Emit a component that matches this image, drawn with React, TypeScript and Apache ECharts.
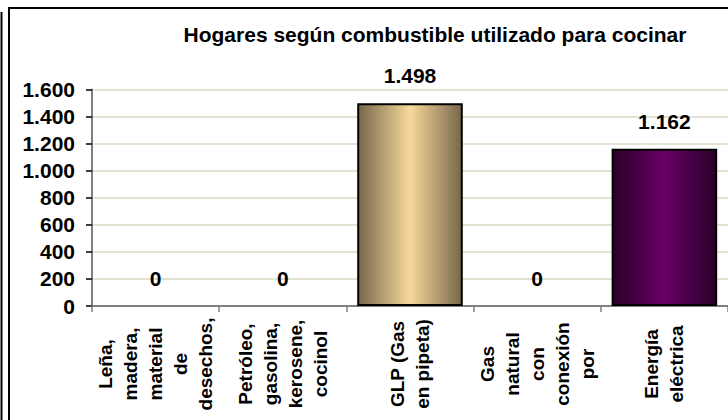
import React, { useEffect, useRef } from "react";
import * as echarts from "echarts";

const titleText = "Hogares según combustible utilizado para cocinar";
const categories = [
  "Leña,\nmadera,\nmaterial\nde\ndesechos,",
  "Petróleo,\ngasolina,\nkerosene,\ncocinol",
  "GLP (Gas\nen pipeta)",
  "Gas\nnatural\ncon\nconexión\npor",
  "Energía\neléctrica",
];
const values = [0, 0, 1498, 0, 1162];
const yTicks = [0, 200, 400, 600, 800, 1000, 1200, 1400, 1600];

const FONT = '"Liberation Sans", Arial, Helvetica, sans-serif';

const fmt = (v: number) =>
  String(Math.round(v)).replace(/\B(?=(\d{3})+(?!\d))/g, ".");

const grad = (edge: string, mid: string) =>
  new echarts.graphic.LinearGradient(0, 0, 1, 0, [
    { offset: 0, color: edge },
    { offset: 0.5, color: mid },
    { offset: 1, color: edge },
  ]);

const barStyles: Record<number, any> = {
  2: { color: grad("#77674a", "#f8d99c"), borderColor: "#000", borderWidth: 2 },
  4: { color: grad("#2a0029", "#680066"), borderColor: "#000", borderWidth: 2 },
};

export default function App() {
  const ref = useRef<HTMLDivElement>(null);
  useEffect(() => {
    if (!ref.current) return;
    const chart = echarts.init(ref.current, undefined, { renderer: "svg" });
    chart.setOption({
      animation: false,
      backgroundColor: "#ffffff",
      graphic: [
        {
          type: "rect",
          shape: { x: 9, y: 8, width: 900, height: 600 },
          style: { fill: "none", stroke: "#000", lineWidth: 2 },
          z: 100,
        },
        {
          type: "line",
          shape: { x1: 1.5, y1: 12, x2: 1.5, y2: 430 },
          style: { stroke: "#000", lineWidth: 2 },
          z: 100,
        },
        {
          type: "text",
          x: 435,
          y: 34,
          style: {
            text: titleText,
            fontFamily: FONT,
            fontWeight: "bold",
            fontSize: 21,
            fill: "#000",
            align: "center",
            verticalAlign: "middle",
          },
          z: 100,
        },
      ],
      grid: { left: 92, top: 89.5, width: 638, height: 216.5 },
      xAxis: {
        type: "category",
        data: categories,
        boundaryGap: true,
        axisLine: { lineStyle: { color: "#7f7f7f", width: 2 } },
        axisTick: { show: true, interval: 0, length: 6, lineStyle: { color: "#7f7f7f", width: 1.5 } },
        axisLabel: {
          interval: 0,
          rotate: 90,
          align: "center",
          verticalAlign: "middle",
          margin: 58,
          lineHeight: 25,
          fontFamily: FONT,
          fontWeight: "bold",
          fontSize: 19,
          color: "#000",
        },
      },
      yAxis: {
        type: "value",
        min: yTicks[0],
        max: yTicks[yTicks.length - 1],
        interval: 200,
        axisLine: { show: true, lineStyle: { color: "#7f7f7f", width: 2 } },
        axisTick: { show: true, length: 6, lineStyle: { color: "#000", width: 1.5 } },
        splitLine: { show: true, lineStyle: { color: "#d9d9c4", width: 1.5 } },
        axisLabel: {
          margin: 17,
          fontFamily: FONT,
          fontWeight: "bold",
          fontSize: 21,
          color: "#000",
          formatter: (v: number) => fmt(v),
        },
      },
      series: [
        {
          type: "bar",
          barWidth: "83%",
          data: values.map((v, i) => ({
            value: v,
            itemStyle: barStyles[i] || { color: "transparent", borderWidth: 0 },
          })),
          label: {
            show: true,
            position: "top",
            distance: 17,
            fontFamily: FONT,
            fontWeight: "bold",
            fontSize: 21,
            color: "#000",
            formatter: (p: any) => fmt(p.value),
          },
        },
      ],
    });
    return () => chart.dispose();
  }, []);
  return (
    <div
      ref={ref}
      style={{ position: "fixed", left: 0, top: 0, width: 728, height: 420, background: "#fff" }}
    />
  );
}
